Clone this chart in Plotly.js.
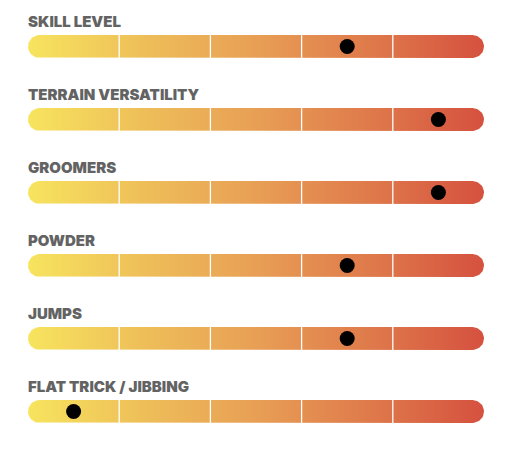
<!DOCTYPE html>
<html><head><meta charset="utf-8">
<script src="https://cdn.plot.ly/plotly-3.0.1.min.js"></script>
<style>html,body{margin:0;padding:0;background:#fff;}#chart{width:511px;height:452px;}</style>
</head><body><div id="chart"></div>
<script>
var categories = ["SKILL LEVEL","TERRAIN VERSATILITY","GROOMERS","POWDER","JUMPS","FLAT TRICK / JIBBING"];
var ratings = [3.5, 4.5, 4.5, 3.5, 3.5, 0.5];
var scaleMax = 5;
var dividers = [1, 2, 3, 4];

var W = 511, H = 452;
var mL = 28, mR = 27, mT = 10, mB = 4;
var plotW = W - mL - mR, plotH = H - mT - mB;
var yMin = -0.5, yMax = categories.length - 0.5;
var pxPerX = plotW / scaleMax;
var pxPerY = plotH / (yMax - yMin);
var halfPx = 11.4;
var hy = halfPx / pxPerY;
var rx = halfPx / pxPerX;

var colorscale = [[0,'#f7e45e'],[0.25,'#eebf59'],[0.5,'#e89f55'],[0.75,'#df7a4b'],[1,'#d5513f']];

var traces = [];
categories.forEach(function(c, i){
  var xs = [], ys = [];
  var n = 24, k;
  for (k = 0; k <= n; k++) {
    var a = -Math.PI/2 + Math.PI*k/n;
    xs.push(scaleMax - rx + rx*Math.cos(a)); ys.push(i + hy*Math.sin(a));
  }
  for (k = 0; k <= n; k++) {
    var b = Math.PI/2 + Math.PI*k/n;
    xs.push(rx + rx*Math.cos(b)); ys.push(i + hy*Math.sin(b));
  }
  xs.push(xs[0]); ys.push(ys[0]);
  traces.push({type:'scatter', mode:'lines', x:xs, y:ys, fill:'toself',
    fillgradient:{type:'horizontal', colorscale:colorscale, start:0, stop:scaleMax},
    line:{width:0, color:'rgba(0,0,0,0)'}, hoverinfo:'skip', showlegend:false});
});

var dx = [], dy = [];
categories.forEach(function(c, i){
  dividers.forEach(function(d){
    dx.push(d, d, null); dy.push(i - hy, i + hy, null);
  });
});
traces.push({type:'scatter', mode:'lines', x:dx, y:dy, line:{color:'#ffffff', width:1.3},
  hoverinfo:'skip', showlegend:false});

traces.push({type:'scatter', mode:'markers', x:ratings, y:categories.map(function(c,i){return i;}),
  marker:{color:'#000000', size:15, line:{width:0}}, cliponaxis:false, showlegend:false});

var annotations = categories.map(function(c, i){
  return {x:0, y:i - hy, xref:'x', yref:'y', text:c, showarrow:false,
    xanchor:'left', yanchor:'bottom', borderpad:0, xshift:-1, yshift:3.5,
    font:{family:'Inter, "Open Sans", sans-serif', size:15, color:'#636363', weight:900}};
});

var layout = {
  width:W, height:H,
  margin:{l:mL, r:mR, t:mT, b:mB, pad:0},
  paper_bgcolor:'#ffffff', plot_bgcolor:'#ffffff',
  xaxis:{range:[0, scaleMax], visible:false, fixedrange:true},
  yaxis:{range:[yMax, yMin], visible:false, fixedrange:true},
  annotations:annotations,
  showlegend:false
};
Plotly.newPlot('chart', traces, layout, {displayModeBar:false, staticPlot:true});
</script></body></html>
